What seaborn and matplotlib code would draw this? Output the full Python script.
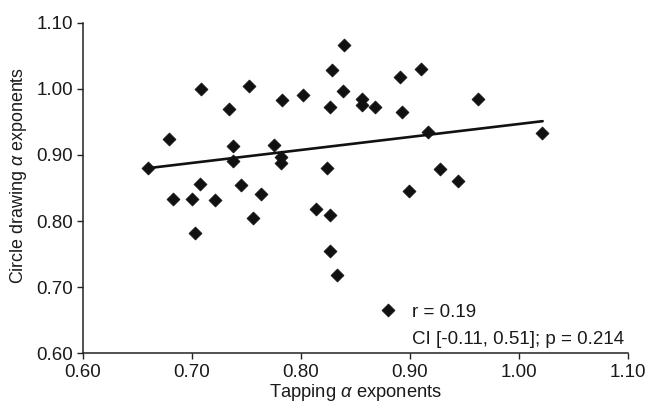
import numpy as np
import pandas as pd
import matplotlib
matplotlib.use("Agg")
import matplotlib.pyplot as plt
import seaborn as sns

# values
tapping = [0.660, 0.679, 0.708, 0.734, 0.752, 0.738, 0.738, 0.775, 0.782, 0.782,
           0.783, 0.802, 0.824, 0.827, 0.829, 0.839, 0.840, 0.856, 0.856, 0.707,
           0.745, 0.763, 0.683, 0.700, 0.721, 0.703, 0.756, 0.814, 0.827, 0.827,
           0.833, 0.891, 0.910, 0.868, 0.893, 0.963, 0.917, 1.021, 0.928, 0.944,
           0.899, 0.880]
circle = [0.880, 0.924, 0.999, 0.970, 1.004, 0.913, 0.891, 0.915, 0.897, 0.888,
          0.983, 0.990, 0.880, 0.972, 1.028, 0.997, 1.066, 0.984, 0.976, 0.856,
          0.855, 0.841, 0.834, 0.834, 0.832, 0.782, 0.804, 0.818, 0.809, 0.754,
          0.719, 1.018, 1.030, 0.972, 0.965, 0.984, 0.934, 0.933, 0.878, 0.860,
          0.846, 0.665]

# fitted trend line as drawn in the reference
trend_x = [0.660, 1.022]
trend_y = [0.880, 0.951]

ticks = [0.60, 0.70, 0.80, 0.90, 1.00, 1.10]

df = pd.DataFrame({"Tapping": tapping, "Circle": circle})
trend = pd.DataFrame({"x": trend_x, "y": trend_y})

sns.set_theme(style="ticks")
plt.rcParams["font.family"] = ["Liberation Sans", "DejaVu Sans"]
plt.rcParams["mathtext.fontset"] = "custom"
plt.rcParams["mathtext.it"] = "Liberation Sans:italic"
plt.rcParams["mathtext.rm"] = "Liberation Sans"

fs = 13.5
txt = "#1a1a1a"

fig = plt.figure(figsize=(6.49, 4.04), dpi=100)
ax = fig.add_axes([0.128, 0.1255, 0.839, 0.8185])

sns.lineplot(data=trend, x="x", y="y", ax=ax, color="#111111", linewidth=1.9)
sns.scatterplot(data=df, x="Tapping", y="Circle", ax=ax, marker="D",
                color="#111111", s=44, edgecolor="#111111", linewidth=0.5, zorder=3)

ax.set_xlim(0.60, 1.10)
ax.set_ylim(0.60, 1.10)
ax.set_xticks(ticks)
ax.set_yticks(ticks)
ax.set_xticklabels([f"{t:.2f}" for t in ticks], fontsize=fs)
ax.set_yticklabels([f"{t:.2f}" for t in ticks], fontsize=fs)
ax.tick_params(axis="x", direction="out", length=4.5, width=1, color="#222222", pad=3,
               labelcolor=txt)
ax.tick_params(axis="y", direction="out", length=4, width=1, color="#222222", pad=3,
               labelcolor=txt)
for side in ["left", "bottom"]:
    ax.spines[side].set_linewidth(1.1)
    ax.spines[side].set_color("#222222")
sns.despine(ax=ax)

ax.set_xlabel(r"Tapping $\mathit{\alpha}$ exponents", fontsize=13.2, color=txt)
ax.xaxis.set_label_coords(0.5, -0.088)
ax.set_ylabel(r"Circle drawing $\mathit{\alpha}$ exponents", fontsize=12.9, color=txt)
ax.yaxis.set_label_coords(-0.099, 0.539)

ax.text(0.902, 0.662, "r = 0.19", fontsize=fs, color=txt, va="center")
ax.text(0.902, 0.621, "CI [-0.11, 0.51]; p = 0.214", fontsize=fs, color=txt, va="center")

fig.savefig("out.png", dpi=100)
